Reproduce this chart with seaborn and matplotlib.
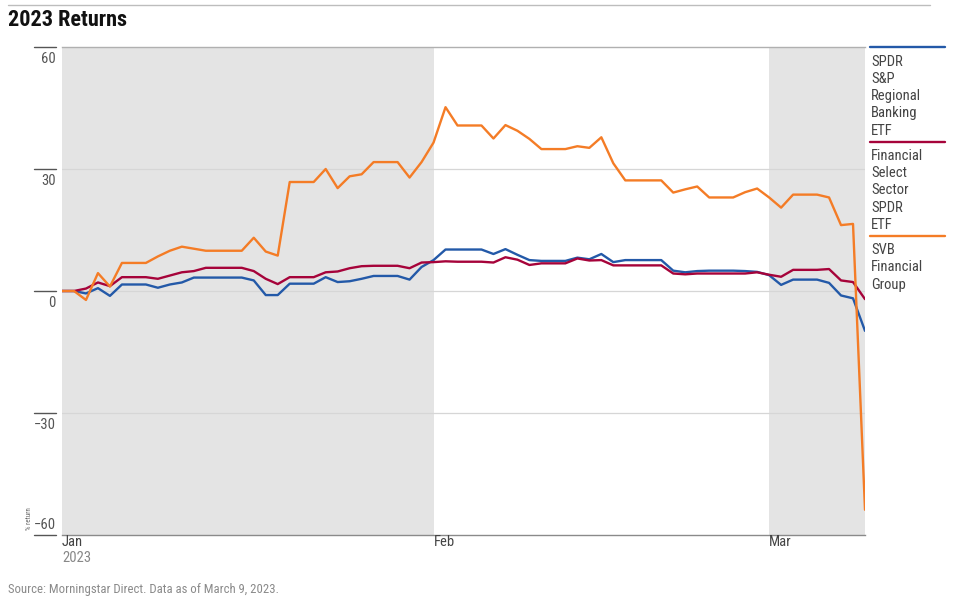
import pandas as pd
import numpy as np
import matplotlib
matplotlib.use("Agg")
import matplotlib.pyplot as plt
import matplotlib.dates as mdates
import matplotlib.transforms as mtransforms
from matplotlib.lines import Line2D
import seaborn as sns

# Data (daily % return since Jan 1, 2023, weekends carried forward)
start_date = "2023-01-01"
end_date = "2023-03-09"

series_names = ["SPDR S&P Regional Banking ETF",
                "Financial Select Sector SPDR ETF",
                "SVB Financial Group"]
series_colors = ["#2359a8", "#a6033a", "#f47c26"]

kre = [0, 0, -0.6, 0.7, -1.2, 1.6, 1.6, 1.6, 0.8, 1.6, 2.1, 3.3, 3.3, 3.3, 3.3, 3.3,
       2.6, -1.0, -1.0, 1.8, 1.8, 1.8, 3.4, 2.2, 2.4, 3.0, 3.7, 3.7, 3.7, 2.8, 5.9,
       7.6, 10.2, 10.2, 10.2, 10.2, 9.1, 10.3, 8.9, 7.6, 7.4, 7.4, 7.4, 8.2, 7.8, 9.1,
       7.1, 7.6, 7.6, 7.6, 7.6, 5.0, 4.6, 4.9, 5.0, 5.0, 5.0, 4.9, 4.7,
       3.9, 1.5, 2.8, 2.8, 2.8, 2.0, -1.1, -1.8, -9.8]
xlf = [0, 0, 0.6, 2.1, 1.2, 3.4, 3.4, 3.4, 3.0, 3.8, 4.6, 4.9, 5.7, 5.7, 5.7, 5.7,
       4.9, 3.0, 1.7, 3.4, 3.4, 3.4, 4.6, 4.8, 5.6, 6.1, 6.2, 6.2, 6.2, 5.6, 7.0,
       7.1, 7.3, 7.2, 7.2, 7.2, 7.0, 8.3, 7.7, 6.4, 6.8, 6.8, 6.8, 8.0, 7.5, 7.6,
       6.3, 6.3, 6.3, 6.3, 6.3, 4.3, 4.1, 4.3, 4.3, 4.3, 4.3, 4.3, 4.6,
       4.0, 3.5, 5.2, 5.2, 5.2, 5.4, 2.6, 2.2, -2.0]
sivb = [0, 0, -2.2, 4.4, 1.1, 6.9, 6.9, 6.9, 8.5, 9.9, 10.9, 10.4, 9.9, 9.9, 9.9, 9.9,
        13.1, 9.7, 8.7, 26.8, 26.8, 26.8, 30.0, 25.3, 28.2, 28.7, 31.7, 31.7, 31.7, 27.9, 31.7,
        36.5, 45.2, 40.7, 40.7, 40.7, 37.5, 40.8, 39.4, 37.4, 34.9, 34.9, 34.9, 35.6, 35.2, 37.8,
        31.4, 27.2, 27.2, 27.2, 27.2, 24.2, 25.0, 25.7, 23.0, 23.0, 23.0, 24.3, 25.2,
        23.0, 20.5, 23.7, 23.7, 23.7, 23.0, 16.2, 16.5, -53.8]

yticks = [-60, -30, 0, 30, 60]
ytick_labels = ["\u221260", "\u221230", "0", "30", "60"]
month_ticks = ["2023-01-01", "2023-02-01", "2023-03-01"]
month_labels = ["Jan", "Feb", "Mar"]

dates = pd.date_range(start_date, end_date, freq="D")
df = pd.concat([
    pd.DataFrame({"date": dates, "ret": vals, "series": name})
    for name, vals in zip(series_names, [kre, xlf, sivb])
])

sns.set_style("white")
plt.rcParams["font.family"] = ["Roboto Condensed", "DejaVu Sans"]

W, H = 956, 605
fig = plt.figure(figsize=(W / 100, H / 100), dpi=100)
ax = fig.add_axes([62 / W, 1 - 535 / H, (865 - 62) / W, (535 - 47) / H])

# alternating month shading
shade = "#e4e4e4"
ax.axvspan(pd.Timestamp("2023-01-01"), pd.Timestamp("2023-02-01"), color=shade, lw=0, zorder=0)
ax.axvspan(pd.Timestamp("2023-03-01"), pd.Timestamp(end_date), color=shade, lw=0, zorder=0)
for v in yticks[1:-1]:
    ax.axhline(v, color="#d6d6d6", lw=0.9, zorder=0.5)

sns.lineplot(data=df, x="date", y="ret", hue="series", hue_order=series_names,
             palette=series_colors, lw=1.7, legend=False, ax=ax, zorder=3)

ax.set_xlim(pd.Timestamp(start_date), pd.Timestamp(end_date))
ax.set_ylim(-60, 60)
ax.set_xticks([])
ax.set_yticks([])
ax.set_xlabel("")
ax.set_ylabel("")
for s in ["left", "right"]:
    ax.spines[s].set_visible(False)
ax.spines["top"].set_color("#b0b0b0")
ax.spines["top"].set_linewidth(1.0)
ax.spines["bottom"].set_color("#8a8a8a")
ax.spines["bottom"].set_linewidth(1.0)

# y tick marks and labels (bottom label sits above its mark)
trans = mtransforms.blended_transform_factory(ax.transAxes, ax.transData)
for v, lab in zip(yticks, ytick_labels):
    ax.plot([-0.0349, -0.0075], [v, v], transform=trans, clip_on=False,
            color="#555555", lw=1.0)
    dy = 7.5 if v == yticks[0] else -8.5
    ax.annotate(lab, xy=(-0.0075, v), xycoords=trans, xytext=(0, dy),
                textcoords="offset points", ha="right", va="center",
                fontsize=10.5, color="#555555")

ax.text(-0.041, -56, "% return", transform=trans, rotation=90, fontsize=5,
        color="#666666", ha="center", va="center")

# month labels
xtrans = mtransforms.blended_transform_factory(ax.transData, ax.transAxes)
for d, lab in zip(month_ticks, month_labels):
    ax.annotate(lab, xy=(mdates.date2num(pd.Timestamp(d)), 0), xycoords=xtrans,
                xytext=(0, -4.8), textcoords="offset points", ha="left", va="center",
                fontsize=10.5, color="#444444")
ax.annotate("2023", xy=(mdates.date2num(pd.Timestamp(month_ticks[0])), 0), xycoords=xtrans,
            xytext=(0, -16.3), textcoords="offset points", ha="left", va="center",
            fontsize=10.5, color="#888888")

# legend on the right, one word per line
y = 47.3
for name, col in zip(series_names, series_colors):
    fig.add_artist(Line2D([870 / W, 945 / W], [1 - y / H, 1 - y / H], color=col, lw=1.7))
    y += 12.7
    for i, word in enumerate(name.split()):
        if i > 0:
            y += 17.3
        fig.text(871 / W, 1 - y / H, word, ha="left", va="center_baseline",
                 fontsize=10.5, color="#444444")
    y += 12.3

# header / footer
fig.add_artist(Line2D([8 / W, 930 / W], [1 - 5 / H, 1 - 5 / H], color="#bdbdbd", lw=1.0))
fig.text(8 / W, 1 - 20 / H, "2023 Returns", fontsize=16, fontweight="bold",
         ha="left", va="center", color="#111111")
fig.text(8 / W, 1 - 589 / H, "Source: Morningstar Direct. Data as of March 9, 2023.",
         fontsize=9.2, color="#8a8a8a", ha="left", va="center")

fig.savefig("out.png", dpi=100)
